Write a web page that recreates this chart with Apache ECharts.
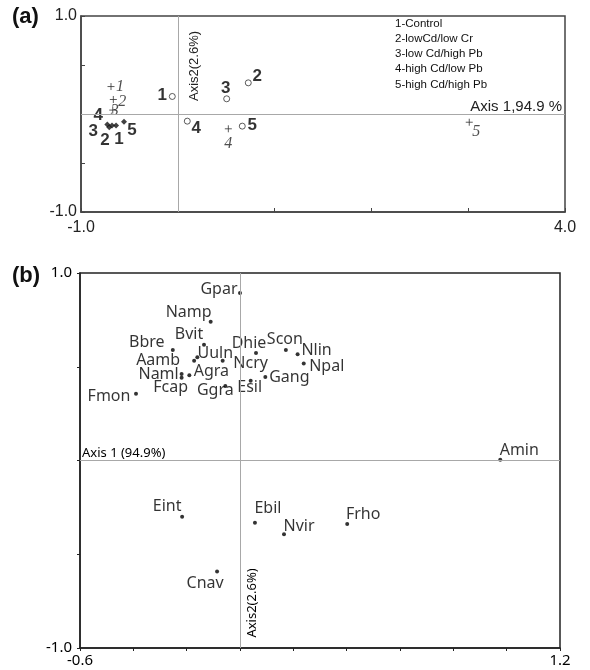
<!DOCTYPE html>
<html>
<head>
<meta charset="utf-8">
<title>Ordination plot</title>
<script src="https://cdn.jsdelivr.net/npm/echarts/dist/echarts.min.js"></script>
<style>
  html, body { margin: 0; padding: 0; background: #fff; }
  #chart { width: 590px; height: 670px; }
</style>
</head>
<body>
<div id="chart"></div>
<script>
// ---- panel (a): treatments ----
const treatmentIds = ['1', '2', '3', '4', '5'];
const legendLines = [
  '1-Control',
  '2-lowCd/low Cr',
  '3-low Cd/high Pb',
  '4-high Cd/low Pb',
  '5-high Cd/high Pb',
];
// open circles
const circleX = [-0.057, 0.728, 0.505, 0.098, 0.666];
const circleY = [0.179, 0.318, 0.155, -0.073, -0.124];
// crosses
const plusX = [-0.69, -0.666, -0.672, 0.522, 3.011];
const plusY = [0.28, 0.148, 0.04, -0.151, -0.084];
// filled diamonds
const diamondX = [-0.638, -0.68, -0.708, -0.728, -0.556];
const diamondY = [-0.117, -0.117, -0.135, -0.107, -0.079];

// ---- panel (b): species ----
const speciesNames = ['Gpar', 'Namp', 'Bvit', 'Bbre', 'Uuln', 'Aamb', 'Ncry', 'Naml',
  'Fcap', 'Agra', 'Ggra', 'Fmon', 'Dhie', 'Scon', 'Nlin', 'Npal', 'Gang', 'Esil',
  'Amin', 'Eint', 'Ebil', 'Nvir', 'Frho', 'Cnav'];
const speciesX = [0.0, -0.11, -0.135, -0.252, -0.16, -0.172, -0.065, -0.219,
  -0.219, -0.19, -0.055, -0.39, 0.06, 0.172, 0.216, 0.239, 0.095, 0.04,
  0.976, -0.217, 0.056, 0.165, 0.402, -0.086];
const speciesY = [0.893, 0.74, 0.617, 0.59, 0.551, 0.532, 0.532, 0.462,
  0.441, 0.455, 0.398, 0.356, 0.573, 0.59, 0.567, 0.517, 0.446, 0.425,
  0.004, -0.3, -0.332, -0.393, -0.339, -0.592];

// label placement (pixels, text centre relative to the mark)
const circleLabelOffset = [[-10, -1], [9, -7], [-1, -10], [9, 7], [10, -1]];
const plusLabelOffset = [[9, 0], [9, 2], [2, 1], [0, 15], [7, 10]];
const diamondLabelOffset = [[3, 14], [-7, 15], [-16, 4], [-9, -9], [8, 9]];
const speciesLabelOffset = {
  Gpar: [-21, -4], Namp: [-22, -9], Bvit: [-15, -10], Bbre: [-26, -7],
  Uuln: [18, -4], Aamb: [-36, 0], Ncry: [28, 3], Naml: [-23, 1],
  Fcap: [-11, 10], Agra: [22, -4], Ggra: [-10, 5], Fmon: [-27, 3],
  Dhie: [-7, -10], Scon: [-1, -10], Nlin: [19, -4], Npal: [23, 3],
  Gang: [24, 1], Esil: [-1, 7], Amin: [19, -9], Eint: [-15, -10],
  Ebil: [13, -14], Nvir: [15, -8], Frho: [16, -10], Cnav: [-12, 12],
};

const ARIAL = '"Liberation Sans", Arial, sans-serif';
const SANS = '"Noto Sans", sans-serif';

function endLabels(min, max) {
  return function (v) {
    if (Math.abs(v - min) < 1e-9 || Math.abs(v - max) < 1e-9) return v.toFixed(1);
    return '';
  };
}

function zeroLines() {
  return {
    silent: true,
    symbol: ['none', 'none'],
    label: { show: false },
    animation: false,
    lineStyle: { color: '#a8a8a8', type: 'solid', width: 1 },
    data: [{ xAxis: 0 }, { yAxis: 0 }],
  };
}

function treatmentPoints(xs, ys, offsets, labelStyle) {
  return xs.map((x, i) => ({
    value: [x, ys[i]],
    label: {
      show: true,
      position: 'inside',
      formatter: treatmentIds[i],
      offset: offsets[i],
      textBorderWidth: 0,
      ...labelStyle,
    },
  }));
}

function getOption() {
  const numLabel = { fontFamily: ARIAL, fontWeight: 'bold', fontSize: 17, color: '#000' };
  const italicLabel = { fontFamily: '"Liberation Serif", serif', fontStyle: 'italic', fontSize: 16, color: '#222' };

  return {
    animation: false,
    grid: [
      { left: 81, top: 16, width: 484, height: 196, show: true, borderColor: '#444', borderWidth: 1.5, backgroundColor: 'transparent' },
      { left: 80, top: 273, width: 480, height: 375, show: true, borderColor: '#222', borderWidth: 1.5, backgroundColor: 'transparent' },
    ],
    xAxis: [
      {
        gridIndex: 0, type: 'value', min: -1, max: 4, interval: 1,
        axisLine: { show: true, onZero: false, lineStyle: { color: '#444', width: 1.5 } },
        axisTick: { show: true, inside: true, length: 4, lineStyle: { color: '#444' } },
        axisLabel: { formatter: endLabels(-1, 4), fontFamily: ARIAL, fontSize: 16, color: '#222', margin: 8, showMinLabel: true, showMaxLabel: true },
        splitLine: { show: false },
      },
      {
        gridIndex: 1, type: 'value', min: -0.6, max: 1.2, interval: 0.2,
        axisLine: { show: true, onZero: false, lineStyle: { color: '#222', width: 1.5 } },
        axisTick: { show: true, inside: false, length: 3, lineStyle: { color: '#222' } },
        axisLabel: { formatter: endLabels(-0.6, 1.2), fontFamily: SANS, fontSize: 15, color: '#000', margin: 5, showMinLabel: true, showMaxLabel: true },
        splitLine: { show: false },
      },
    ],
    yAxis: [
      {
        gridIndex: 0, type: 'value', min: -1, max: 1, interval: 0.5,
        axisLine: { show: true, onZero: false, lineStyle: { color: '#444', width: 1.5 } },
        axisTick: { show: true, inside: true, length: 4, lineStyle: { color: '#444' } },
        axisLabel: { formatter: endLabels(-1, 1), fontFamily: ARIAL, fontSize: 16, color: '#222', margin: 4, showMinLabel: true, showMaxLabel: true },
        splitLine: { show: false },
      },
      {
        gridIndex: 1, type: 'value', min: -1, max: 1, interval: 0.5,
        axisLine: { show: true, onZero: false, lineStyle: { color: '#222', width: 1.5 } },
        axisTick: { show: true, inside: false, length: 3, lineStyle: { color: '#222' } },
        axisLabel: { formatter: endLabels(-1, 1), fontFamily: SANS, fontSize: 15, color: '#000', margin: 8, showMinLabel: true, showMaxLabel: true },
        splitLine: { show: false },
      },
    ],
    series: [
      {
        name: 'circles', type: 'scatter', xAxisIndex: 0, yAxisIndex: 0,
        symbol: 'circle', symbolSize: 6,
        itemStyle: { color: '#fff', borderColor: '#333', borderWidth: 1 },
        data: treatmentPoints(circleX, circleY, circleLabelOffset, numLabel),
        markLine: zeroLines(),
      },
      {
        name: 'crosses', type: 'scatter', xAxisIndex: 0, yAxisIndex: 0,
        symbol: 'path://M0,4H8M4,0V8', symbolSize: 7,
        itemStyle: { color: 'transparent', borderColor: '#333', borderWidth: 1 },
        data: treatmentPoints(plusX, plusY, plusLabelOffset, italicLabel),
      },
      {
        name: 'diamonds', type: 'scatter', xAxisIndex: 0, yAxisIndex: 0,
        symbol: 'diamond', symbolSize: 6,
        itemStyle: { color: '#111' },
        data: treatmentPoints(diamondX, diamondY, diamondLabelOffset, numLabel),
      },
      {
        name: 'species', type: 'scatter', xAxisIndex: 1, yAxisIndex: 1,
        symbol: 'circle', symbolSize: 4,
        itemStyle: { color: '#000' },
        data: speciesNames.map((name, i) => ({
          value: [speciesX[i], speciesY[i]],
          label: {
            show: true,
            position: 'inside',
            formatter: name,
            offset: speciesLabelOffset[name],
            fontFamily: SANS,
            fontSize: 16,
            color: '#000',
            textBorderWidth: 0,
          },
        })),
        markLine: zeroLines(),
      },
    ],
    graphic: [
      { type: 'text', left: 12, top: 6, style: { text: '(a)', font: 'bold 22px ' + ARIAL, fill: '#111' } },
      { type: 'text', left: 12, top: 265, style: { text: '(b)', font: 'bold 22px ' + ARIAL, fill: '#111' } },
      ...legendLines.map((t, i) => ({
        type: 'text', x: 395, y: [24, 39, 54, 69, 85][i],
        style: { text: t, font: '11.5px ' + ARIAL, fill: '#111', textVerticalAlign: 'middle' },
      })),
      { type: 'text', x: 562, y: 107, style: { text: 'Axis 1,94.9 %', font: '15px ' + ARIAL, fill: '#222', textAlign: 'right', textVerticalAlign: 'middle' } },
      { type: 'text', x: 194, y: 66, rotation: Math.PI / 2, style: { text: 'Axis2(2.6%)', font: '13px ' + ARIAL, fill: '#222', textAlign: 'center', textVerticalAlign: 'middle' } },
      { type: 'text', x: 82, y: 453, style: { text: 'Axis 1 (94.9%)', font: '13px ' + SANS, fill: '#000', textVerticalAlign: 'middle' } },
      { type: 'text', x: 252, y: 603, rotation: Math.PI / 2, style: { text: 'Axis2(2.6%)', font: '13px ' + SANS, fill: '#000', textAlign: 'center', textVerticalAlign: 'middle' } },
    ],
  };
}

const chart = echarts.init(document.getElementById('chart'), null, { renderer: 'canvas' });
chart.setOption(getOption());
</script>
</body>
</html>
